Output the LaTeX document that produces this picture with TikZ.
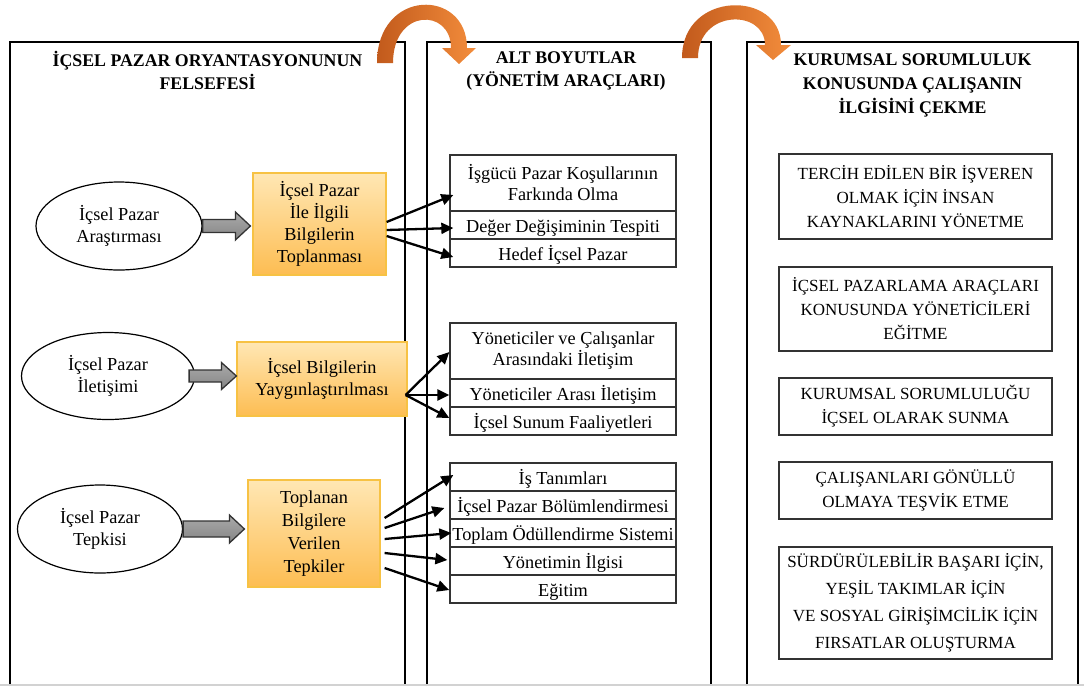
\documentclass[tikz,border=0pt]{standalone}
\usepackage{fontspec}
\setmainfont{Liberation Serif}
\usetikzlibrary{arrows.meta,calc,shapes.geometric}
\definecolor{orgdark}{HTML}{C25A1C}
\definecolor{orglight}{HTML}{F38D3C}
\definecolor{ytop}{HTML}{FFE7B4}
\definecolor{ybot}{HTML}{FDBD52}
\definecolor{yedge}{HTML}{F7C244}
\definecolor{garr}{HTML}{858585}
\definecolor{gedge}{HTML}{333333}
\definecolor{boxedge}{HTML}{333333}

% gray block arrow between two points: start, end, half body, half head
\newcommand\grayblockarrow[4]{%
  \draw[blockarr] let \p1=(#1), \p2=(#2) in
    (\x1,\y1+#3) -- (\x2-15pt,\y1+#3) -- (\x2-15pt,\y1+#4) -- (\x2,\y1)
    -- (\x2-15pt,\y1-#4) -- (\x2-15pt,\y1-#3) -- (\x1,\y1-#3) -- cycle;}

\begin{document}
\begin{tikzpicture}[x=1pt,y=-1pt,
  every node/.style={font=\fontsize{18.3}{22.5}\selectfont, inner sep=0pt, align=center},
  panel/.style={line width=2.6pt, draw=black},
  ptitle/.style={font=\fontsize{17.8}{23}\selectfont\bfseries},
  oval/.style={ellipse, draw=black, line width=1.2pt, fill=white},
  ybox/.style={draw=yedge, line width=1.2pt, top color=ytop, bottom color=ybot},
  mbox/.style={draw=boxedge, line width=1.3pt, minimum width=226pt, font=\fontsize{18.3}{21}\selectfont},
  mrow/.style={mbox, minimum height=28pt, text height=16pt, text depth=1pt},
  rbox/.style={draw=boxedge, line width=1.3pt, minimum width=273pt, font=\fontsize{17}{24}\selectfont},
  conn/.style={line width=2.3pt, -{Triangle[length=12pt,width=11pt]}},
  blockarr/.style={draw=gedge, line width=1.3pt, top color=garr!70, bottom color=garr},
  curvearrow/.style={left color=orgdark, right color=orglight, draw=none}
]
\useasboundingbox (0,0) rectangle (1084,686);

% three column panels, open at the bottom
\draw[panel] (10,686) -- (10,42) -- (405,42) -- (405,686);
\draw[panel] (427,686) -- (427,42) -- (711,42) -- (711,686);
\draw[panel] (747,686) -- (747,42) -- (1078,42) -- (1078,686);
\draw[gray!35, line width=1.5pt] (0,685) -- (1084,685);

% curved orange arrows between the panels
\shade[curvearrow] (377,63) .. controls (377,-12) and (467,-12) .. (467,48)
  -- (476,48) -- (459,64) -- (442,48) -- (451,48)
  .. controls (451,8) and (393,8) .. (393,63) -- cycle;
\shade[curvearrow] (682,58) .. controls (682,-10) and (781,-10) .. (781,45)
  -- (791,45) -- (773,60) -- (756,45) -- (765,45)
  .. controls (765,9) and (698,9) .. (698,58) -- cycle;

% panel titles
\node[ptitle] (t1) at (207.5,70.5) {İÇSEL PAZAR ORYANTASYONUNUN\\FELSEFESİ};
\node[ptitle] (t2) at (566,70.5) {ALT BOYUTLAR\\(YÖNETİM ARAÇLARI)};
\node[ptitle, font=\fontsize{17.8}{24}\selectfont\bfseries] (t3) at (912.5,85)
  {KURUMSAL SORUMLULUK\\KONUSUNDA ÇALIŞANIN\\İLGİSİNİ ÇEKME};

% left column: ellipses and yellow boxes
\node[oval, minimum width=166pt, minimum height=88pt] (e1) at (119,226) {İçsel Pazar\\Araştırması};
\node[oval, minimum width=173pt, minimum height=87pt] (e2) at (108,376) {İçsel Pazar\\İletişimi};
\node[oval, minimum width=165pt, minimum height=88pt] (e3) at (100,529) {İçsel Pazar\\Tepkisi};

\node[ybox, minimum width=133pt, minimum height=102pt, font=\fontsize{18.3}{22}\selectfont] (b1) at (319.5,224)
  {İçsel Pazar\\İle İlgili\\Bilgilerin\\Toplanması};
\node[ybox, minimum width=170pt, minimum height=74pt] (b2) at (322,379)
  {İçsel Bilgilerin\\Yaygınlaştırılması};
\node[ybox, minimum width=132pt, minimum height=107pt, font=\fontsize{18.3}{23}\selectfont] (b3) at (314,533.5)
  {Toplanan\\Bilgilere\\Verilen\\Tepkiler};

\grayblockarrow{e1.east}{$(b1.west)+(-2,0)$}{6.5pt}{14pt}
\grayblockarrow{$(e2.east)+(-6,0)$}{b2.west}{6pt}{13.5pt}
\grayblockarrow{e3.east}{$(b3.west)+(-3,0)$}{8pt}{14pt}

% middle column: management tools
\node[mbox, minimum height=56pt] (g1a) at (563,183) {İşgücü Pazar Koşullarının\\Farkında Olma};
\node[mrow] (g1b) at (563,225) {Değer Değişiminin Tespiti};
\node[mrow] (g1c) at (563,253) {Hedef İçsel Pazar};

\node[mbox, minimum height=56pt] (g2a) at (563,351) {Yöneticiler ve Çalışanlar\\Arasındaki İletişim};
\node[mrow] (g2b) at (563,393) {Yöneticiler Arası İletişim};
\node[mrow] (g2c) at (563,421) {İçsel Sunum Faaliyetleri};

\node[mrow] (g3a) at (563,477) {İş Tanımları};
\node[mrow] (g3b) at (563,505) {İçsel Pazar Bölümlendirmesi};
\node[mrow] (g3c) at (563,533) {Toplam Ödüllendirme Sistemi};
\node[mrow] (g3d) at (563,561) {Yönetimin İlgisi};
\node[mrow] (g3e) at (563,589) {Eğitim};

% right column
\node[rbox, minimum height=85pt] (r1) at (915.5,196.5)
  {TERCİH EDİLEN BİR İŞVEREN\\OLMAK İÇİN İNSAN\\KAYNAKLARINI YÖNETME};
\node[rbox, minimum height=84pt] (r2) at (915.5,309)
  {İÇSEL PAZARLAMA ARAÇLARI\\KONUSUNDA YÖNETİCİLERİ\\EĞİTME};
\node[rbox, minimum height=57pt] (r3) at (915.5,406.5)
  {KURUMSAL SORUMLULUĞU\\İÇSEL OLARAK SUNMA};
\node[rbox, minimum height=57pt] (r4) at (915.5,490.5)
  {ÇALIŞANLARI GÖNÜLLÜ\\OLMAYA TEŞVİK ETME};
\node[rbox, minimum height=112pt, font=\fontsize{17}{27}\selectfont] (r5) at (915.5,603)
  {SÜRDÜRÜLEBİLİR BAŞARI İÇİN,\\YEŞİL TAKIMLAR İÇİN\\VE SOSYAL GİRİŞİMCİLİK İÇİN\\FIRSATLAR OLUŞTURMA};

% connectors from the yellow boxes to the tools
\draw[conn] ($(b1.east)+(0,-2)$) -- ($(g1a.west)+(4,12)$);
\draw[conn] ($(b1.east)+(0,6)$) -- ($(g1b.west)+(4,3)$);
\draw[conn] ($(b1.east)+(0,12)$) -- ($(g1c.west)+(4,4)$);

\draw[conn] ($(b2.east)+(-2,16)$) -- ($(g2a.west)+(0,1)$);
\draw[conn] ($(b2.east)+(-2,16)$) -- ($(g2b.west)+(0,2)$);
\draw[conn] ($(b2.east)+(-2,16)$) -- ($(g2c.west)+(0,-3)$);

\draw[conn] ($(b3.east)+(4,-15.5)$) -- ($(g3a.west)+(4,-2)$);
\draw[conn] ($(b3.east)+(4,-5.5)$) -- ($(g3b.west)+(-5,3)$);
\draw[conn] ($(b3.east)+(4,5.5)$) -- ($(g3c.west)+(2,0)$);
\draw[conn] ($(b3.east)+(4,19.5)$) -- ($(g3d.west)+(-2,-1)$);
\draw[conn] ($(b3.east)+(4,34.5)$) -- ($(g3e.west)+(0,1)$);
\end{tikzpicture}
\end{document}
